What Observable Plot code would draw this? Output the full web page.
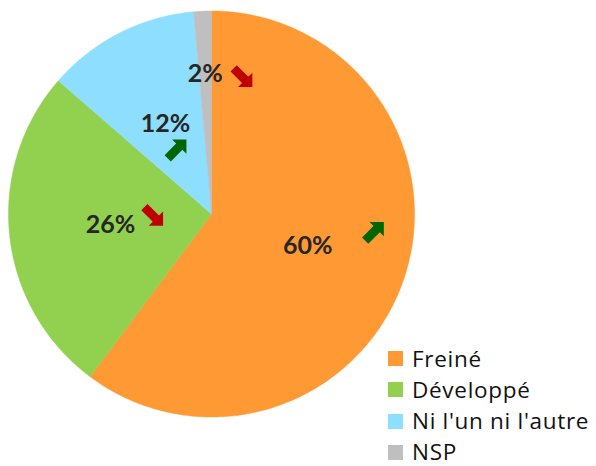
<!DOCTYPE html>
<html><head><meta charset="utf-8">
<script src="https://cdn.jsdelivr.net/npm/d3@7"></script>
<script src="https://cdn.jsdelivr.net/npm/@observablehq/plot@0.6"></script>
<style>
body{margin:0;background:#fff;font-family:Lato,"Open Sans",sans-serif}
#wrap{position:relative;width:596px;height:466px}
#legend{position:absolute;left:388px;top:343px}
.row{display:flex;align-items:center;height:31.3px}
.sw{width:15px;height:15px;margin-right:9px;flex:none}
.lab{font-family:"Open Sans",sans-serif;font-size:22.5px;letter-spacing:0.7px;color:#111;white-space:nowrap;line-height:0.9}
</style></head><body>
<div id="wrap"><div id="chart"></div><div id="legend"></div></div>
<script>
// ---- data ----
const categories = ["Freiné", "Développé", "Ni l'un ni l'autre", "NSP"];
const shares = [60.2, 26.2, 12.2, 1.4];
const labels = ["60%", "26%", "12%", "2%"];
const trends = ["up", "down", "up", "down"];
const colors = ["#FF9933", "#92D050", "#8EDEFF", "#BFBFBF"];

// ---- layout ----
const W = 596, H = 466, CX = 211, CY = 213.5, R = 203;
const labelRadius = shares.map(s => s < 5 ? 0.69 : 0.5);
const arrowOffsetPx = [[65, -13], [41.5, -10], [10, 27], [36, 2]];

// slice polygons
const total = d3.sum(shares);
const polys = [];
const labelData = [];
const arrowData = [];
let cum = 0;
shares.forEach((s, i) => {
  const a0 = cum / total * 2 * Math.PI;
  const a1 = (cum + s) / total * 2 * Math.PI;
  cum += s;
  const n = Math.max(2, Math.ceil((a1 - a0) / (Math.PI / 360)));
  polys.push({cat: categories[i], x: 0, y: 0});
  for (let k = 0; k <= n; k++) {
    const t = a0 + (a1 - a0) * k / n;
    polys.push({cat: categories[i], x: Math.sin(t), y: Math.cos(t)});
  }
  polys.push({cat: categories[i], x: 0, y: 0});
  const am = (a0 + a1) / 2;
  const lx = labelRadius[i] * Math.sin(am), ly = labelRadius[i] * Math.cos(am);
  labelData.push({cat: categories[i], x: lx, y: ly, text: labels[i]});
  arrowData.push({trend: trends[i], x: lx + arrowOffsetPx[i][0] / R, y: ly - arrowOffsetPx[i][1] / R});
});

// block arrow symbols (pointing NE / SE)
const arrowPts = [[10,-10],[10,3],[6.33,-0.67],[-4.17,9.83],[-9.83,4.17],[0.67,-6.33],[-3,-10]];
function makeArrow(flip) {
  return {
    draw(ctx, size) {
      const s = Math.sqrt(size / Math.PI) / 10;
      arrowPts.forEach(([px, py], j) => {
        const X = px * s, Y = (flip ? -py : py) * s;
        if (j === 0) ctx.moveTo(X, Y); else ctx.lineTo(X, Y);
      });
      ctx.closePath();
    }
  };
}
const arrowUp = makeArrow(false), arrowDown = makeArrow(true);

const chart = Plot.plot({
  width: W, height: H,
  margin: 0,
  x: {domain: [-1, 1], range: [CX - R, CX + R], axis: null},
  y: {domain: [-1, 1], range: [CY + R, CY - R], axis: null},
  color: {domain: categories, range: colors},
  style: {background: "transparent", fontFamily: "Lato, 'Open Sans', sans-serif"},
  marks: [
    Plot.line(polys, {x: "x", y: "y", z: "cat", fill: "cat", stroke: "cat", strokeWidth: 0.5, curve: "linear"}),
    Plot.text(labelData, {x: "x", y: "y", text: "text", fontSize: 25, fontWeight: "bold", fill: "#262626"}),
    Plot.dot(arrowData.filter(d => d.trend === "up"), {x: "x", y: "y", r: 11, symbol: arrowUp, fill: "#006600", stroke: "none"}),
    Plot.dot(arrowData.filter(d => d.trend === "down"), {x: "x", y: "y", r: 11, symbol: arrowDown, fill: "#C00000", stroke: "none"})
  ]
});
document.getElementById("chart").appendChild(chart);

const leg = d3.select("#legend");
categories.forEach((c, i) => {
  const row = leg.append("div").attr("class", "row");
  row.append("div").attr("class", "sw").style("background", colors[i]);
  row.append("div").attr("class", "lab").text(c);
});
</script>
</body></html>
